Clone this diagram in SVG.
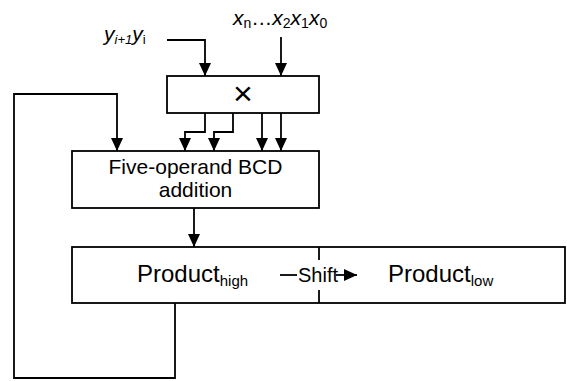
<svg xmlns="http://www.w3.org/2000/svg" width="567" height="381" viewBox="0 0 567 381">
  <style>
    .box { fill: #ffffff; stroke: #000000; stroke-width: 1.8; }
    .wire { fill: none; stroke: #000000; stroke-width: 1.8; }
    .arr { marker-end: url(#head); }
    text { font-family: "Liberation Sans", Arial, sans-serif; fill: #000000; }
    .it { font-style: italic; }
  </style>
  <defs>
    <marker id="head" markerUnits="userSpaceOnUse" markerWidth="13" markerHeight="12" refX="13" refY="6" orient="auto">
      <path d="M0,0 L13,6 L0,12 Z" fill="#000000"/>
    </marker>
  </defs>

  <!-- input labels -->
  <g id="input-y">
    <text x="104" y="41" font-size="21"><tspan class="it">y</tspan><tspan class="it" font-size="13" dy="3">i+1</tspan><tspan class="it" dy="-3">y</tspan><tspan font-size="13" dy="3">i</tspan></text>
  </g>
  <g id="input-x">
    <text x="233" y="25" font-size="21"><tspan class="it">x</tspan><tspan font-size="14" dy="3">n</tspan><tspan dy="-3">…</tspan><tspan class="it">x</tspan><tspan font-size="14" dy="3">2</tspan><tspan class="it" dy="-3">x</tspan><tspan font-size="14" dy="3">1</tspan><tspan class="it" dy="-3">x</tspan><tspan font-size="14" dy="3">0</tspan></text>
  </g>

  <!-- multiplier -->
  <g id="multiplier">
    <rect class="box" x="167" y="76" width="152" height="37"/>
    <text x="243" y="105" font-size="34" text-anchor="middle">×</text>
  </g>

  <!-- five-operand adder -->
  <g id="adder">
    <rect class="box" x="72" y="151" width="247" height="57"/>
    <text x="195.5" y="174" font-size="21" text-anchor="middle">Five-operand BCD</text>
    <text x="195.5" y="197" font-size="21" text-anchor="middle">addition</text>
  </g>

  <!-- product register -->
  <g id="product">
    <rect class="box" x="72" y="247" width="493" height="56"/>
    <line class="wire" x1="319" y1="247" x2="319" y2="260"/>
    <line class="wire" x1="319" y1="290" x2="319" y2="303"/>
    <text x="137" y="282" font-size="24">Product<tspan font-size="15" dy="4">high</tspan></text>
    <text x="388" y="282" font-size="24">Product<tspan font-size="15" dy="4">low</tspan></text>
    <line class="wire" x1="280" y1="275" x2="297" y2="275"/>
    <text x="298" y="282" font-size="20">Shift</text>
    <line class="wire arr" x1="336" y1="275" x2="357" y2="275"/>
  </g>

  <!-- connectors -->
  <g id="connectors">
    <polyline class="wire arr" points="167,40 205,40 205,76"/>
    <polyline class="wire arr" points="281,37 281,76"/>
    <polyline class="wire arr" points="205,113 205,132 185,132 185,151"/>
    <polyline class="wire arr" points="233,113 233,132 214,132 214,151"/>
    <polyline class="wire arr" points="262,113 262,151"/>
    <polyline class="wire arr" points="281,113 281,151"/>
    <polyline class="wire arr" points="194,208 194,247"/>
    <polyline class="wire arr" points="175,303 175,378 14,378 14,94 117,94 117,151"/>
  </g>
</svg>
